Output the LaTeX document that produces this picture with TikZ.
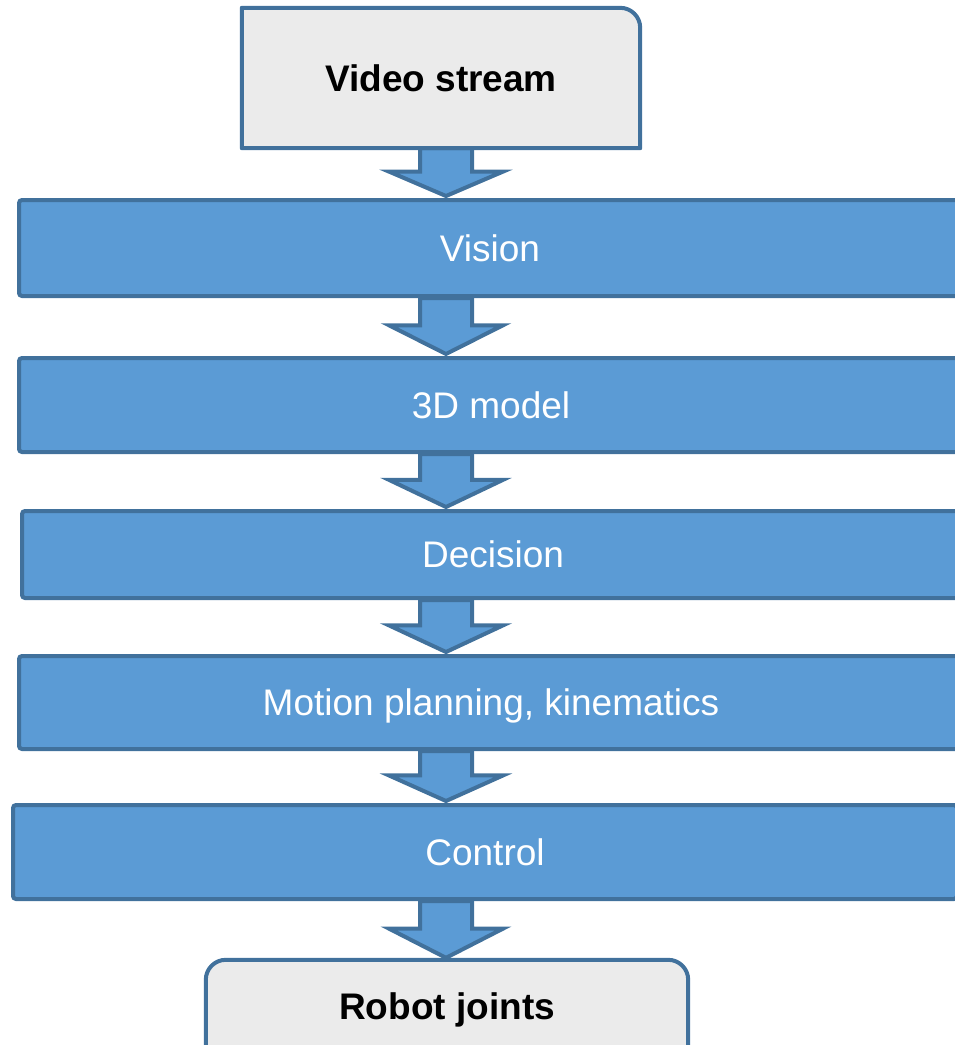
\documentclass[tikz,border=0pt]{standalone}
\usepackage{fontspec}
\setmainfont{Liberation Sans}
\usetikzlibrary{calc,backgrounds}
\definecolor{bluefill}{HTML}{5B9BD5}
\definecolor{blueline}{HTML}{41719C}
\definecolor{greyfill}{HTML}{EBEBEB}
\tikzset{
  stagebox/.style={draw=blueline, fill=bluefill, line width=4pt, rounded corners=3pt,
    inner sep=0pt, text=white, font=\fontsize{37}{44}\selectfont,
    text height=26.5pt, text depth=0pt},
  endtext/.style={font=\bfseries\fontsize{37}{44}\selectfont, text=black, inner sep=0pt,
    text height=26.5pt, text depth=0pt},
  endfill/.style={fill=greyfill},
  endline/.style={draw=blueline, line width=4pt, line join=round},
  flowarr/.style={draw=blueline, fill=bluefill, line width=4pt, line join=miter},
}
\newcommand\flowarrow[2]{%
  \draw[flowarr] let \p1=(#1.south), \p2=(#2.north), \p3=($(#1.south)!0.47!(#2.north)$) in
    ({420pt},{\y1}) -- ({420pt},{\y3}) -- ({389pt},{\y3}) -- ({446pt},{\y2+2pt})
    -- ({503pt},{\y3}) -- ({472pt},{\y3}) -- ({472pt},{\y1}) -- cycle;}
\begin{document}
\begin{tikzpicture}[x=1pt,y=-1pt]
\useasboundingbox (0,0) rectangle (954,1045);
% grey end boxes (text nodes)
\node[endtext, minimum width=398pt, minimum height=140pt] (video) at (441,78) {Video stream};
\node[endtext, minimum width=482pt, minimum height=92pt] (robot) at (447,1006) {Robot joints};
% blue stage boxes
\node[stagebox, minimum width=942pt, minimum height=96pt] (vision) at (490,248) {Vision};
\node[stagebox, minimum width=944pt, minimum height=94pt] (model) at (491,405) {3D model};
\node[stagebox, minimum width=942pt, minimum height=87pt] (decision) at (493,554.5) {Decision};
\node[stagebox, minimum width=944pt, minimum height=93pt] (motion) at (491,702.5) {Motion planning, kinematics};
\node[stagebox, minimum width=944pt, minimum height=94pt] (control) at (485,852) {Control};
\begin{scope}[on background layer]
  \flowarrow{video}{vision}
  \flowarrow{vision}{model}
  \flowarrow{model}{decision}
  \flowarrow{decision}{motion}
  \flowarrow{motion}{control}
  \flowarrow{control}{robot}
  % video stream box outline
  \path[endfill, endline] (video.south west) -- (video.north west)
    -- ([xshift=-20pt]video.north east) arc[start angle=90, end angle=0, radius=20pt]
    -- (video.south east) -- cycle;
  % robot joints box (open at the bottom)
  \fill[endfill] ([yshift=-10pt]robot.south west) -- ([yshift=-20pt]robot.north west)
    arc[start angle=180, end angle=90, radius=20pt]
    -- ([xshift=-20pt]robot.north east) arc[start angle=90, end angle=0, radius=20pt]
    -- ([yshift=-10pt]robot.south east) -- cycle;
  \draw[endline] ([yshift=-10pt]robot.south west) -- ([yshift=-20pt]robot.north west)
    arc[start angle=180, end angle=90, radius=20pt]
    -- ([xshift=-20pt]robot.north east) arc[start angle=90, end angle=0, radius=20pt]
    -- ([yshift=-10pt]robot.south east);
\end{scope}
\end{tikzpicture}
\end{document}
